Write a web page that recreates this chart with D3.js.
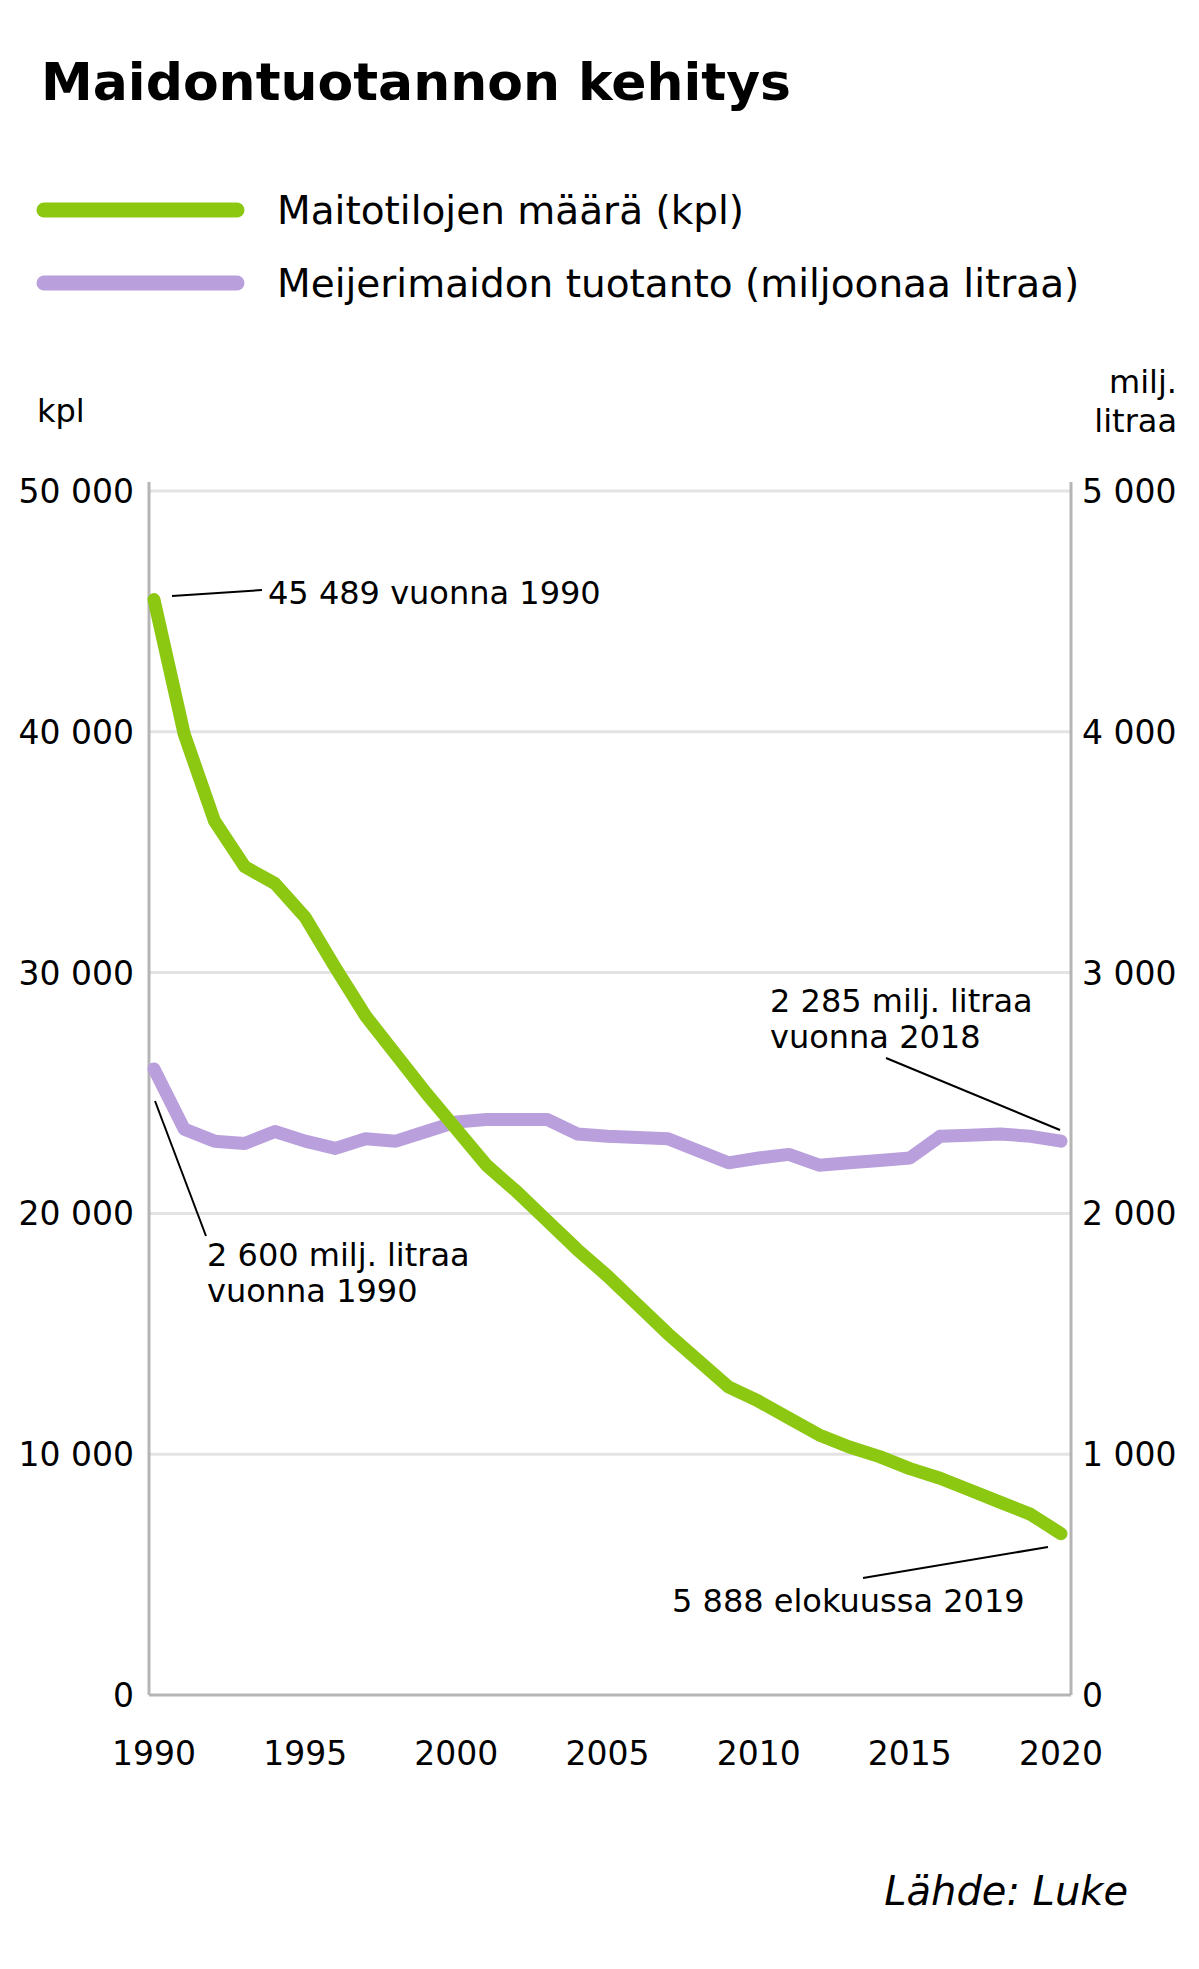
<!DOCTYPE html>
<html><head><meta charset="utf-8">
<script src="https://cdn.jsdelivr.net/npm/d3@7"></script>
<style>body{margin:0;background:#fff}svg{font-family:"DejaVu Sans",sans-serif}</style>
</head><body><svg id="c" width="1199" height="1969"></svg>
<script>
// Data
const years = d3.range(1990, 2021);
const farms = [45489,39900,36300,34400,33700,32300,30200,28200,26600,25000,23500,22000,20900,19700,18500,17400,16200,15000,13900,12800,12200,11500,10800,10300,9900,9400,9000,8500,8000,7500,6700];
const milk = [2600,2350,2300,2290,2340,2300,2270,2310,2300,2340,2380,2390,2390,2390,2330,2320,2315,2310,2260,2210,2230,2245,2200,2210,2220,2230,2320,2325,2330,2320,2300];
const leftTicks = [0,10000,20000,30000,40000,50000];
const rightTicks = [0,1000,2000,3000,4000,5000];
const xTicks = [1990,1995,2000,2005,2010,2015,2020];

const svg = d3.select('#c');
const fmt = v => v === 0 ? '0' : d3.format(',')(v).replace(/,/g, '\u00a0');
const green = '#8cc711', purple = '#b9a0dc';

const x = d3.scaleLinear().domain([1990, 2020]).range([154, 1061]);
const yL = d3.scaleLinear().domain([0, 50000]).range([1695, 491]);
const yR = d3.scaleLinear().domain([0, 5000]).range([1695, 491]);

// Title
svg.append('text').attr('x', 41).attr('y', 100).attr('font-size', 52).attr('font-weight', 700)
  .text('Maidontuotannon kehitys');

// Legend
[['Maitotilojen määrä (kpl)', green, 210], ['Meijerimaidon tuotanto (miljoonaa litraa)', purple, 283]].forEach(([t, c, y]) => {
  svg.append('line').attr('x1', 44).attr('x2', 237).attr('y1', y).attr('y2', y)
    .attr('stroke', c).attr('stroke-width', 15).attr('stroke-linecap', 'round');
  svg.append('text').attr('x', 277).attr('y', y + 14).attr('font-size', 39).text(t);
});

// Units
svg.append('text').attr('x', 37).attr('y', 422).attr('font-size', 32).text('kpl');
svg.append('text').attr('x', 1177).attr('y', 393).attr('font-size', 32).attr('text-anchor', 'end').text('milj.');
svg.append('text').attr('x', 1177).attr('y', 432).attr('font-size', 32).attr('text-anchor', 'end').text('litraa');

// Grid
svg.append('g').selectAll('line').data(leftTicks.slice(1)).join('line')
  .attr('x1', 149).attr('x2', 1071).attr('y1', d => yL(d)).attr('y2', d => yL(d))
  .attr('stroke', '#e3e3e3').attr('stroke-width', 3);
svg.append('line').attr('x1', 149).attr('x2', 1071).attr('y1', yL(0)).attr('y2', yL(0))
  .attr('stroke', '#b5b5b5').attr('stroke-width', 3);
[149, 1071].forEach(px => svg.append('line').attr('x1', px).attr('x2', px).attr('y1', 482).attr('y2', yL(0))
  .attr('stroke', '#b5b5b5').attr('stroke-width', 3));

// Axis labels
svg.append('g').selectAll('text').data(leftTicks).join('text')
  .attr('x', 134).attr('y', d => yL(d) + 12).attr('text-anchor', 'end').attr('font-size', 33).text(fmt);
svg.append('g').selectAll('text').data(rightTicks).join('text')
  .attr('x', 1082).attr('y', d => yR(d) + 12).attr('font-size', 33).text(fmt);
svg.append('g').selectAll('text').data(xTicks).join('text')
  .attr('x', d => x(d)).attr('y', 1765).attr('text-anchor', 'middle').attr('font-size', 33).text(d => d);

// Lines
const lineL = d3.line().x((d, i) => x(years[i])).y(d => yL(d));
const lineR = d3.line().x((d, i) => x(years[i])).y(d => yR(d));
svg.append('path').datum(milk).attr('d', lineR).attr('fill', 'none').attr('stroke', purple)
  .attr('stroke-width', 13).attr('stroke-linejoin', 'round').attr('stroke-linecap', 'round');
svg.append('path').datum(farms).attr('d', lineL).attr('fill', 'none').attr('stroke', green)
  .attr('stroke-width', 13).attr('stroke-linejoin', 'round').attr('stroke-linecap', 'round');

// Annotations
const ann = (lines, tx, ty, l) => {
  svg.append('line').attr('x1', l[0]).attr('y1', l[1]).attr('x2', l[2]).attr('y2', l[3])
    .attr('stroke', '#000').attr('stroke-width', 2);
  lines.forEach((t, i) => svg.append('text').attr('x', tx).attr('y', ty + i * 36).attr('font-size', 32).text(t));
};
ann(['45 489 vuonna 1990'], 268, 604, [172, 596, 262, 590]);
ann(['2 600 milj. litraa', 'vuonna 1990'], 207, 1266, [155, 1101, 206, 1236]);
ann(['2 285 milj. litraa', 'vuonna 2018'], 770, 1012, [886, 1058, 1060, 1130]);
ann(['5 888 elokuussa 2019'], 672, 1612, [863, 1578, 1048, 1547]);

// Source
svg.append('text').attr('x', 1128).attr('y', 1905).attr('text-anchor', 'end').attr('font-size', 40)
  .attr('font-style', 'italic').text('Lähde: Luke');
</script></body></html>
